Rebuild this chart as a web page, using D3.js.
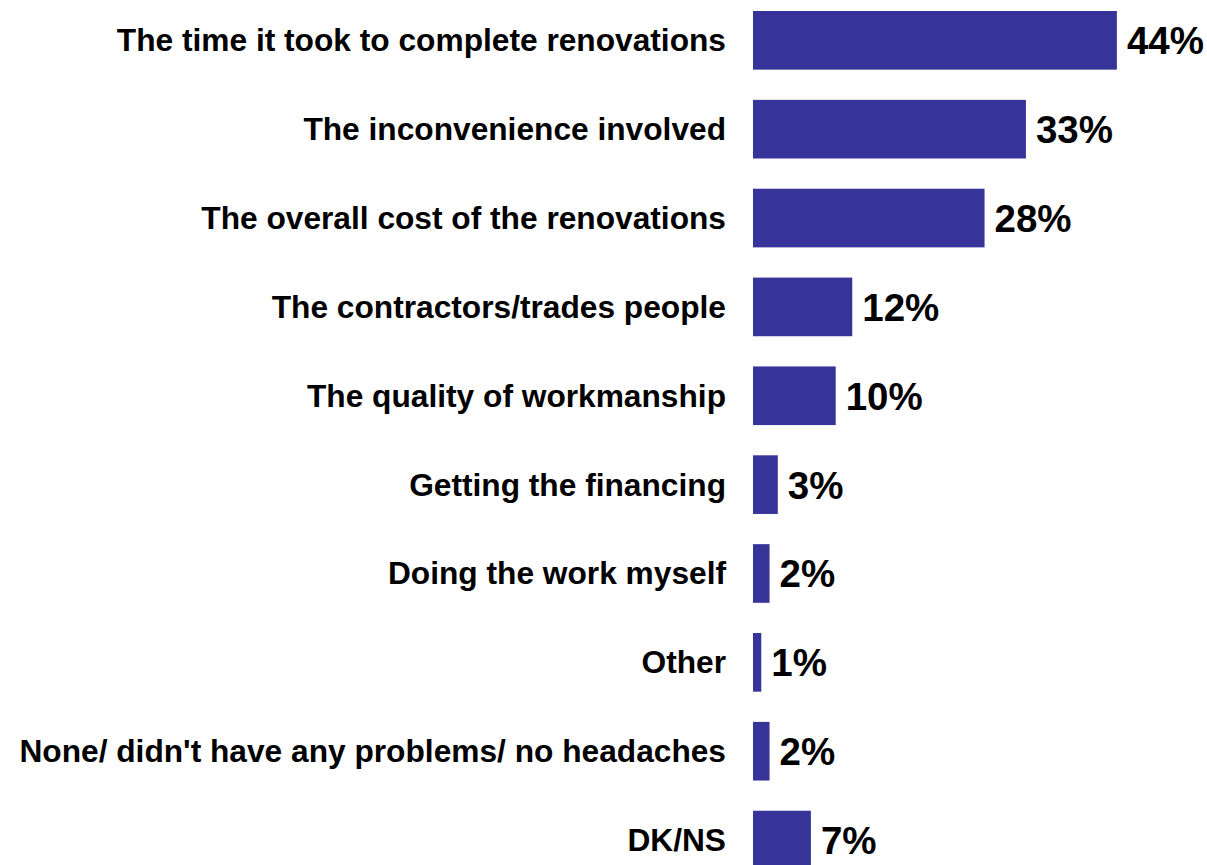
<!DOCTYPE html>
<html>
<head>
<meta charset="utf-8">
<script src="https://cdn.jsdelivr.net/npm/d3@7"></script>
<style>
  html, body { margin: 0; padding: 0; background: #ffffff; }
  svg { display: block; }
</style>
</head>
<body>
<svg id="chart" width="1207" height="865"></svg>
<script>
// Reported renovation headaches (% of respondents)
const categories = [
  "The time it took to complete renovations",
  "The inconvenience involved",
  "The overall cost of the renovations",
  "The contractors/trades people",
  "The quality of workmanship",
  "Getting the financing",
  "Doing the work myself",
  "Other",
  "None/ didn't have any problems/ no headaches",
  "DK/NS"
];
const values = [44, 33, 28, 12, 10, 3, 2, 1, 2, 7];
const valueLabels = ["44%", "33%", "28%", "12%", "10%", "3%", "2%", "1%", "2%", "7%"];

const svg = d3.select("#chart");
const barLeft = 753;
const pxPerPoint = 8.27;

const x = d3.scaleLinear()
  .domain([0, 44])
  .range([barLeft, barLeft + 44 * pxPerPoint]);

const step = 88.86;
const y = d3.scaleBand()
  .domain(categories)
  .range([11 - 0.17 * step, 11 - 0.17 * step + categories.length * step])
  .paddingInner(0.34)
  .paddingOuter(0.17);

const rows = categories.map((c, i) => ({ cat: c, value: values[i], label: valueLabels[i] }));

svg.append("g").selectAll("rect")
  .data(rows)
  .join("rect")
  .attr("x", x(0))
  .attr("y", d => y(d.cat))
  .attr("width", d => x(d.value) - x(0))
  .attr("height", y.bandwidth())
  .attr("fill", "#363499");

svg.append("g").selectAll("text")
  .data(rows)
  .join("text")
  .attr("x", 726)
  .attr("y", d => y(d.cat) + y.bandwidth() / 2 + 11)
  .attr("text-anchor", "end")
  .attr("font-family", "Liberation Sans, Arial, sans-serif")
  .attr("font-weight", "bold")
  .attr("font-size", 31.7)
  .attr("fill", "#000")
  .text(d => d.cat);

svg.append("g").selectAll("text")
  .data(rows)
  .join("text")
  .attr("x", d => x(d.value) + 10)
  .attr("y", d => y(d.cat) + y.bandwidth() / 2 + 14)
  .attr("font-family", "Liberation Sans, Arial, sans-serif")
  .attr("font-weight", "bold")
  .attr("font-size", 38.5)
  .attr("fill", "#000")
  .text(d => d.label);
</script>
</body>
</html>
